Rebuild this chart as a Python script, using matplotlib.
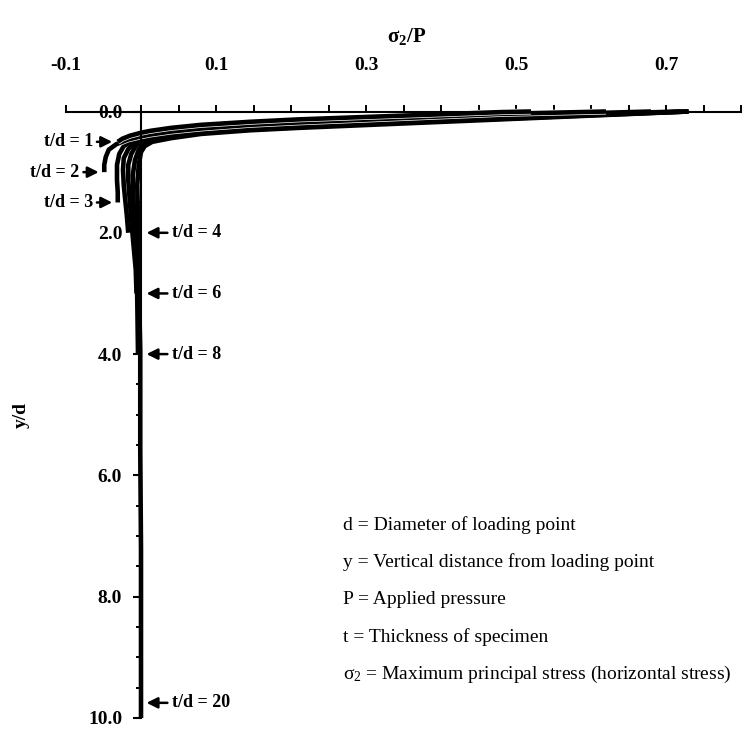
import numpy as np
import matplotlib
matplotlib.use('Agg')
import matplotlib.pyplot as plt
import matplotlib.patheffects as pe
from matplotlib.ticker import FixedLocator, FixedFormatter

plt.rcParams['font.family'] = ['Liberation Serif', 'DejaVu Serif']
plt.rcParams['mathtext.fontset'] = 'custom'
plt.rcParams['mathtext.rm'] = 'Liberation Serif'
plt.rcParams['mathtext.it'] = 'Liberation Serif'
plt.rcParams['mathtext.bf'] = 'Liberation Serif:bold'

# sigma_2/P along the depth y/d, one curve per thickness ratio t/d
thickness = [1, 2, 3, 4, 6, 8, 20]

y_td1 = [0.0, 0.01, 0.07, 0.13, 0.17, 0.22, 0.27, 0.32, 0.35, 0.40, 0.45, 0.50]
s_td1 = [0.52, 0.48, 0.345, 0.21, 0.145, 0.08, 0.04, 0.012, 0.0, -0.015, -0.025, -0.031]

y_td2 = [0.0, 0.04, 0.11, 0.18, 0.22, 0.28, 0.33, 0.38, 0.41, 0.46, 0.54, 0.63, 0.75, 0.88, 1.00]
s_td2 = [0.62, 0.48, 0.345, 0.21, 0.145, 0.08, 0.04, 0.012, 0.0, -0.017, -0.033, -0.043, -0.047, -0.049, -0.049]

y_td3 = [0.0, 0.07, 0.13, 0.21, 0.25, 0.31, 0.35, 0.40, 0.44, 0.49, 0.57, 0.70, 0.88, 1.13, 1.33, 1.50]
s_td3 = [0.68, 0.48, 0.345, 0.21, 0.145, 0.08, 0.04, 0.012, 0.0, -0.012, -0.023, -0.029, -0.032, -0.032, -0.031, -0.031]

y_td4 = [0.0, 0.08, 0.15, 0.22, 0.26, 0.32, 0.38, 0.43, 0.47, 0.52, 0.62, 0.77, 0.96, 1.21, 1.46, 1.70, 2.00]
s_td4 = [0.72, 0.48, 0.345, 0.21, 0.145, 0.08, 0.04, 0.012, 0.0, -0.009, -0.017, -0.023, -0.024, -0.023, -0.021, -0.019, -0.017]

y_td6 = [0.0, 0.10, 0.17, 0.24, 0.28, 0.34, 0.40, 0.46, 0.50, 0.57, 0.70, 0.88, 1.13, 1.46, 1.79, 2.20, 2.61, 3.00]
s_td6 = [0.73, 0.48, 0.345, 0.21, 0.145, 0.08, 0.04, 0.012, 0.0, -0.007, -0.013, -0.017, -0.017, -0.015, -0.013, -0.010, -0.007, -0.006]

y_td8 = [0.0, 0.12, 0.18, 0.26, 0.30, 0.35, 0.42, 0.49, 0.54, 0.63, 0.80, 1.05, 1.46, 1.95, 2.45, 3.10, 4.00]
s_td8 = [0.73, 0.48, 0.345, 0.21, 0.145, 0.08, 0.04, 0.012, 0.003, -0.003, -0.008, -0.011, -0.010, -0.008, -0.006, -0.005, -0.004]

y_td20 = [0.0, 0.13, 0.20, 0.27, 0.31, 0.37, 0.44, 0.50, 0.57, 0.67, 0.88, 1.21, 1.79, 2.78, 3.93, 5.58, 7.22, 8.87, 10.0]
s_td20 = [0.73, 0.48, 0.345, 0.21, 0.145, 0.08, 0.04, 0.015, 0.005, 0.0, -0.003, -0.005, -0.004, -0.003, -0.001, -0.001, 0.0, 0.0, 0.0]

depths = [y_td1, y_td2, y_td3, y_td4, y_td6, y_td8, y_td20]
stresses = [s_td1, s_td2, s_td3, s_td4, s_td6, s_td8, s_td20]

# depth where each t/d label points
label_y = [0.5, 1.0, 1.5, 2.0, 3.0, 4.0, 9.75]

x_labels = ['-0.1', '0.1', '0.3', '0.5', '0.7']
y_labels = ['0.0', '2.0', '4.0', '6.0', '8.0', '10.0']

notes = ['d = Diameter of loading point',
         'y = Vertical distance from loading point',
         'P = Applied pressure',
         't = Thickness of specimen',
         r'$\sigma_2$ = Maximum principal stress (horizontal stress)']

my_dpi = 100
fig = plt.figure(figsize=(751/my_dpi, 731/my_dpi), dpi=my_dpi)
ax1 = fig.add_axes([66/751, 13/731, 675/751, 606.5/731])

# thickest specimen first; the two thinnest get a white edge so they stand
# apart from the bundle underneath
for td, yy, ss in reversed(list(zip(thickness, depths, stresses))):
    effects = None
    if td <= 2:
        effects = [pe.Stroke(linewidth=4.3, foreground='white'), pe.Normal()]
    ax1.plot(ss, yy, color='black', lw=3.3, solid_capstyle='butt', clip_on=False,
             path_effects=effects)

ax1.set_xlim(-0.1, 0.8)
ax1.set_ylim(10, 0)

# axes: sigma axis along the top, depth axis through sigma = 0
for side in ['bottom', 'right']:
    ax1.spines[side].set_visible(False)
ax1.spines['left'].set_position(('data', 0))
ax1.spines['left'].set_linewidth(1.5)
ax1.spines['top'].set_linewidth(1.5)

ax1.xaxis.tick_top()
ax1.xaxis.set_major_locator(FixedLocator([float(v) for v in x_labels]))
ax1.xaxis.set_major_formatter(FixedFormatter(x_labels))
ax1.xaxis.set_minor_locator(FixedLocator(np.arange(0, 0.81, 0.05)))
ax1.tick_params(axis='x', which='both', direction='out', length=5, width=1.4, pad=22,
                labelsize=14)

ax1.yaxis.set_major_locator(FixedLocator([float(v) for v in y_labels]))
ax1.yaxis.set_major_formatter(FixedFormatter(y_labels))
ax1.yaxis.set_minor_locator(FixedLocator(np.arange(0, 10.01, 0.5)))
ax1.tick_params(axis='y', which='major', direction='out', length=5.5, width=1.5, pad=8,
                labelsize=14)
ax1.tick_params(axis='y', which='minor', direction='out', length=3.5, width=1.4)

for lab in ax1.get_xticklabels() + ax1.get_yticklabels():
    lab.set_fontweight('bold')

ax1.set_xlabel(r'$\mathbf{\sigma_2}$/P', fontsize=15, fontweight='bold')
ax1.xaxis.set_label_position('top')
ax1.xaxis.set_label_coords(0.505, 1.115)
ax1.set_ylabel('y/d', fontsize=14, fontweight='bold')
ax1.yaxis.set_label_coords(-0.053, 0.5)

arrow = dict(arrowstyle='-|>,head_length=0.5,head_width=0.25', color='black', lw=1.8,
             shrinkA=1, shrinkB=4)

# thin specimens labelled on the left, thick ones on the right
for td, yy, ss, ly in zip(thickness, depths, stresses, label_y):
    if td <= 3:
        ax1.annotate('t/d = %d' % td, xy=(ss[-1], ly), xytext=(-18, 0),
                     textcoords='offset points', ha='right', va='center',
                     fontsize=13, fontweight='bold', arrowprops=arrow)
    else:
        ax1.annotate('t/d = %d' % td, xy=(0, ly), xytext=(22, 0),
                     textcoords='offset points', ha='left', va='center',
                     fontsize=13, fontweight='bold', arrowprops=arrow)

for i, note in enumerate(notes):
    ax1.text(0.41, 0.318 - 0.0615*i, note, transform=ax1.transAxes,
             fontsize=14, ha='left', va='center')

fig.savefig('out.png', dpi=my_dpi)
